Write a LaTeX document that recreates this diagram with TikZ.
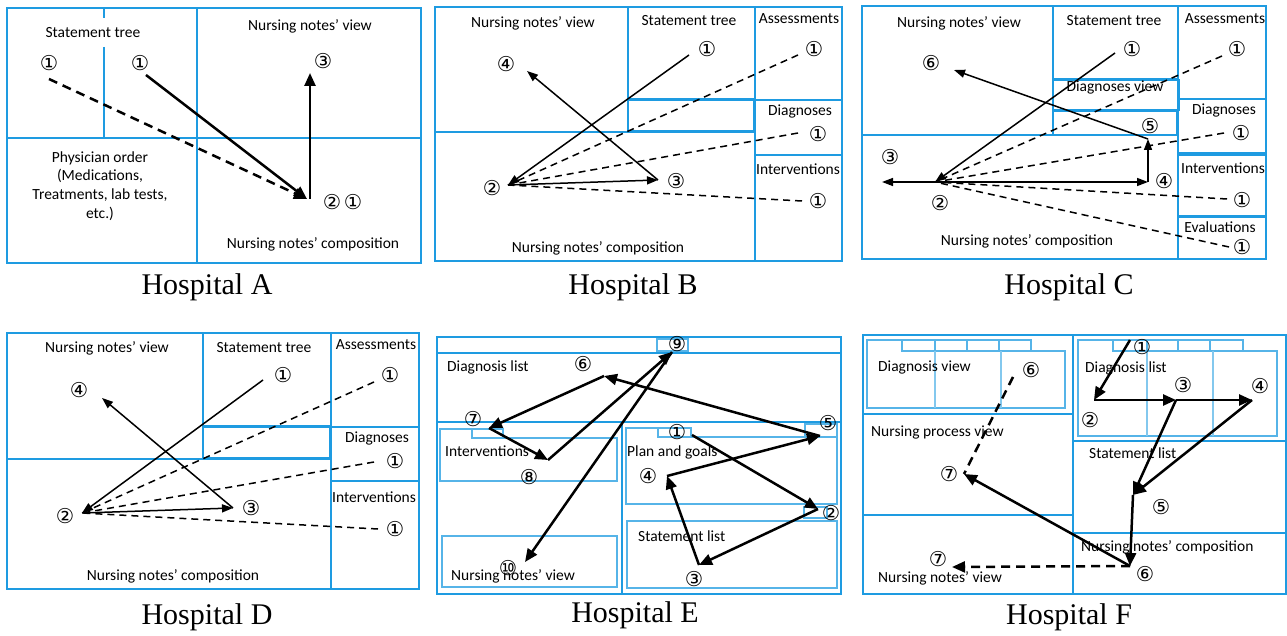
\documentclass[tikz,border=0pt]{standalone}
\usepackage{fontspec}
\setmainfont{Carlito}
\newfontfamily\capfont{Liberation Serif}
\newfontfamily\circfont{DejaVu Sans}
\usetikzlibrary{arrows.meta}
\definecolor{paneblue}{RGB}{30,155,225}

\tikzset{
  pane/.style={draw=paneblue, line width=1.4pt},
  subpane/.style={draw=paneblue!75, line width=1.1pt},
  lbl/.style={font=\fontsize{15.5}{18.7}\selectfont, inner sep=1pt},
  num/.style={font=\circfont\fontsize{20.5}{21}\selectfont, inner sep=0pt},
  hosp/.style={font=\capfont\fontsize{30}{32}\selectfont},
  flow/.style={line width=1.5pt, -{Triangle[length=11pt,width=8pt]}},
  boldflow/.style={line width=2.5pt, -{Triangle[length=13pt,width=11pt]}},
  hint/.style={line width=1.5pt, dash pattern=on 7pt off 5pt},
  boldhint/.style={line width=2.5pt, dash pattern=on 9pt off 6pt},
}

\begin{document}
\begin{tikzpicture}[x=1pt, y=-1pt]
	\useasboundingbox (0,0) rectangle (1287,636);
	
	% Hospital A: caixas
	\draw[pane] (7,8) rectangle (421,263);
	\draw[pane] (197,8) -- (197,263);
	\draw[pane] (7,138) -- (421,138);
	\draw[pane] (104,8) -- (104,18) (104,47) -- (104,138);
	\node[lbl] (aTree) at (93,33) {Statement tree};
	\node[lbl] (aView) at (310,26) {Nursing notes’ view};
	\node[lbl, align=center] (aOrder) at (100,186) {Physician order\\(Medications,\\Treatments, lab tests,\\etc.)};
	\node[lbl] (aComp) at (313,244) {Nursing notes’ composition};
	\node[hosp] (capA) at (207,287) {Hospital A};
	
	% Hospital A: passos
	\node[num] (aOneL) at (49,63) {①};
	\node[num] (aOneR) at (140,63) {①};
	\node[num] (aThree) at (323,61) {③};
	\node[num] (aTwo) at (332,202) {②};
	\node[num] (aOneC) at (353,202) {①};
	\coordinate (pA1l) at (49,79);
	\coordinate (pA1r) at (146,75);
	\coordinate (pA2) at (307,199);
	\coordinate (pA2b) at (310,199);
	\coordinate (pA3) at (310,73);
	\draw[boldhint, -{Triangle[length=13pt,width=11pt]}] (pA1l) -- (pA2);
	\draw[boldflow] (pA1r) -- (pA2);
	\draw[boldflow] (pA2b) -- (pA3);
	
	% Hospital B: caixas
	\draw[pane] (435,7) rectangle (628,132);
	\draw[pane] (435,132) rectangle (755,261);
	\draw[pane] (628,7) rectangle (755,99);
	\draw[pane] (628,100) rectangle (754,131);
	\draw[pane] (755,7) rectangle (842,100);
	\draw[pane] (755,100) rectangle (842,155);
	\draw[pane] (755,155) rectangle (842,261);
	\node[lbl] (bView) at (533,23) {Nursing notes’ view};
	\node[lbl] (bTree) at (689,21) {Statement tree};
	\node[lbl] (bAss) at (799,19) {Assessments};
	\node[lbl] (bDiag) at (800,112) {Diagnoses};
	\node[lbl] (bInt) at (798,169) {Interventions};
	\node[lbl] (bComp) at (598,248) {Nursing notes’ composition};
	\node[hosp] (capB) at (633,287) {Hospital B};
	
	% Hospital B: passos
	\node[num] (bOneT) at (707,49) {①};
	\node[num] (bOneA) at (814,49) {①};
	\node[num] (bOneD) at (818,134) {①};
	\node[num] (bOneI) at (818,201) {①};
	\node[num] (bFour) at (506,64) {④};
	\node[num] (bTwo) at (492,188) {②};
	\node[num] (bThree) at (676,181) {③};
	\coordinate (pB1t) at (689,55);
	\coordinate (pB1a) at (798,55);
	\coordinate (pB1d) at (798,133);
	\coordinate (pB1i) at (802,201);
	\coordinate (pB2) at (508,185);
	\coordinate (pB3) at (658,180);
	\coordinate (pB4) at (527,71);
	\draw[flow] (pB1t) -- (pB2);
	\draw[flow] (pB2) -- (pB3);
	\draw[flow] (pB3) -- (pB4);
	\draw[hint] (pB1a) -- (pB2);
	\draw[hint] (pB1d) -- (pB2);
	\draw[hint] (pB1i) -- (pB2);
	
	% Hospital C: caixas
	\draw[pane] (862,6) rectangle (1053,135);
	\draw[pane] (862,135) rectangle (1178,259);
	\draw[pane] (1053,6) rectangle (1178,79);
	\draw[pane] (1053,80) rectangle (1179,110);
	\draw[pane] (1053,111) rectangle (1177,135);
	\draw[pane] (1178,6) rectangle (1266,99);
	\draw[pane] (1178,99) rectangle (1266,153);
	\draw[pane] (1178,155) rectangle (1266,216);
	\draw[pane] (1178,217) rectangle (1266,259);
	\node[lbl] (cView) at (959,23) {Nursing notes’ view};
	\node[lbl] (cTree) at (1114,21) {Statement tree};
	\node[lbl] (cDview) at (1115,88) {Diagnoses view};
	\node[lbl] (cAss) at (1225,19) {Assessments};
	\node[lbl] (cDiag) at (1224,111) {Diagnoses};
	\node[lbl] (cInt) at (1223,168) {Interventions};
	\node[lbl] (cEval) at (1220,227) {Evaluations};
	\node[lbl] (cComp) at (1027,241) {Nursing notes’ composition};
	\node[hosp] (capC) at (1069,287) {Hospital C};
	
	% Hospital C: passos
	\node[num] (cOneT) at (1132,49) {①};
	\node[num] (cOneA) at (1237,49) {①};
	\node[num] (cOneD) at (1241,133) {①};
	\node[num] (cOneI) at (1242,200) {①};
	\node[num] (cOneE) at (1242,247) {①};
	\node[num] (cSix) at (931,63) {⑥};
	\node[num] (cThree) at (890,157) {③};
	\node[num] (cTwo) at (940,203) {②};
	\node[num] (cFour) at (1164,181) {④};
	\node[num] (cFive) at (1150,126) {⑤};
	\coordinate (pC1t) at (1115,53);
	\coordinate (pC1a) at (1222,56);
	\coordinate (pC1d) at (1224,133);
	\coordinate (pC1i) at (1227,199);
	\coordinate (pC1e) at (1229,247);
	\coordinate (pC2) at (935,182);
	\coordinate (pC3) at (882,182);
	\coordinate (pC4) at (1148,182);
	\coordinate (pC5) at (1148,139);
	\coordinate (pC6) at (954,70);
	\draw[flow] (pC1t) -- (pC2);
	\draw[flow] (pC2) -- (pC3);
	\draw[flow] (pC2) -- (pC4);
	\draw[flow] (pC4) -- (pC5);
	\draw[flow] (pC5) -- (pC6);
	\draw[hint] (pC1a) -- (pC2);
	\draw[hint] (pC1d) -- (pC2);
	\draw[hint] (pC1i) -- (pC2);
	\draw[hint] (pC1e) -- (pC2);
	
	% Hospital D: caixas
	\draw[pane] (7,333) rectangle (203,459);
	\draw[pane] (7,459) rectangle (331,589);
	\draw[pane] (203,333) rectangle (331,426);
	\draw[pane] (203,427) rectangle (330,458);
	\draw[pane] (331,333) rectangle (419,427);
	\draw[pane] (331,427) rectangle (419,481);
	\draw[pane] (331,481) rectangle (419,589);
	\node[lbl] (dView) at (107,348) {Nursing notes’ view};
	\node[lbl] (dTree) at (264,348) {Statement tree};
	\node[lbl] (dAss) at (376,345) {Assessments};
	\node[lbl] (dDiag) at (377,438) {Diagnoses};
	\node[lbl] (dInt) at (374,497) {Interventions};
	\node[lbl] (dComp) at (173,576) {Nursing notes’ composition};
	\node[hosp] (capD) at (207,617) {Hospital D};
	
	% Hospital D: passos
	\node[num] (dOneT) at (283,375) {①};
	\node[num] (dOneA) at (390,375) {①};
	\node[num] (dOneD) at (395,461) {①};
	\node[num] (dOneI) at (395,529) {①};
	\node[num] (dFour) at (79,390) {④};
	\node[num] (dTwo) at (65,516) {②};
	\node[num] (dThree) at (251,508) {③};
	\coordinate (pD1t) at (263,380);
	\coordinate (pD1a) at (374,382);
	\coordinate (pD1d) at (374,462);
	\coordinate (pD1i) at (378,529);
	\coordinate (pD2) at (82,513);
	\coordinate (pD3) at (233,508);
	\coordinate (pD4) at (102,398);
	\draw[flow] (pD1t) -- (pD2);
	\draw[flow] (pD2) -- (pD3);
	\draw[flow] (pD3) -- (pD4);
	\draw[hint] (pD1a) -- (pD2);
	\draw[hint] (pD1d) -- (pD2);
	\draw[hint] (pD1i) -- (pD2);
	
	% Hospital E: caixas
	\draw[pane] (437,337) rectangle (841,594);
	\draw[pane] (437,353) -- (841,353);
	\draw[pane] (437,422) -- (841,422);
	\draw[pane] (622,422) -- (622,594);
	\draw[subpane] (657,339) rectangle (688,351);
	\draw[subpane] (472,429) -- (440,429) -- (440,481) -- (617,481) -- (617,438) -- (503,438);
	\draw[subpane] (472,429) rectangle (503,438);
	\draw[subpane] (442,536) rectangle (617,587);
	\draw[subpane] (658,428) -- (626,428) -- (626,504) -- (837,504) -- (837,437) -- (691,437);
	\draw[subpane] (658,428) rectangle (691,437);
	\draw[subpane] (805,424) rectangle (837,437);
	\draw[subpane] (627,521) rectangle (837,588);
	\draw[subpane] (804,507) rectangle (827,518);
	\node[lbl, anchor=west] (eDiag) at (446,367) {Diagnosis list};
	\node[lbl, anchor=west] (eInt) at (444,451) {Interventions};
	\node[lbl, anchor=west] (ePlan) at (626,452) {Plan and goals};
	\node[lbl, anchor=west] (eStat) at (637,536) {Statement list};
	\node[lbl, anchor=west] (eView) at (450,576) {Nursing notes’ view};
	\node[hosp] (capE) at (635,615) {Hospital E};
	
	% Hospital E: passos
	\node[num] (eOne) at (677,432) {①};
	\node[num] (eTwo) at (831,513) {②};
	\node[num] (eThree) at (694,579) {③};
	\node[num] (eFour) at (648,476) {④};
	\node[num] (eFive) at (828,423) {⑤};
	\node[num] (eSix) at (583,364) {⑥};
	\node[num] (eSeven) at (473,419) {⑦};
	\node[num] (eEight) at (529,477) {⑧};
	\node[num] (eNine) at (677,344) {⑨};
	\node[num] (eTen) at (508,568) {⑩};
	\coordinate (pE1) at (692,435);
	\coordinate (pE2) at (818,509);
	\coordinate (pE3) at (699,565);
	\coordinate (pE4) at (667,476);
	\coordinate (pE5) at (820,436);
	\coordinate (pE6) at (604,376);
	\coordinate (pE7) at (489,428);
	\coordinate (pE8) at (548,460);
	\coordinate (pE9) at (672,352);
	\coordinate (pE10) at (525,562);
	\draw[boldflow] (pE1) -- (pE2);
	\draw[boldflow] (pE2) -- (pE3);
	\draw[boldflow] (pE3) -- (pE4);
	\draw[boldflow] (pE4) -- (pE5);
	\draw[boldflow] (pE5) -- (pE6);
	\draw[boldflow] (pE6) -- (pE7);
	\draw[boldflow] (pE7) -- (pE8);
	\draw[boldflow] (pE8) -- (pE9);
	\draw[boldflow] (pE9) -- (pE10);
	
	% Hospital F: caixas
	\draw[pane] (863,335) rectangle (1286,594);
	\draw[pane] (1073,335) -- (1073,594);
	\draw[pane] (863,414) -- (1073,414);
	\draw[pane] (863,515) -- (1073,515);
	\draw[pane] (1073,441) -- (1286,441);
	\draw[pane] (1073,533) -- (1286,533);
	\draw[subpane] (1031,351) -- (1065,351) -- (1065,408) -- (867,408) -- (867,340) -- (1031,340) -- (1031,351) -- (902,351) -- (902,340);
	\draw[subpane] (935,340) -- (935,351) (967,340) -- (967,351) (999,340) -- (999,351);
	\draw[subpane, draw=paneblue!55] (935,351) -- (935,408) (1001,351) -- (1001,408);
	\draw[subpane] (1243,351) -- (1277,351) -- (1277,436) -- (1078,436) -- (1078,340) -- (1243,340) -- (1243,351) -- (1113,351) -- (1113,340);
	\draw[subpane] (1147,340) -- (1147,351) (1178,340) -- (1178,351) (1210,340) -- (1210,351);
	\draw[subpane, draw=paneblue!55] (1147,351) -- (1147,436) (1213,351) -- (1213,436);
	\node[lbl, anchor=west] (fDview) at (877,367) {Diagnosis view};
	\node[lbl, anchor=west] (fProc) at (870,432) {Nursing process view};
	\node[lbl, anchor=west] (fView) at (877,578) {Nursing notes’ view};
	\node[lbl, anchor=west] (fDlist) at (1084,368) {Diagnosis list};
	\node[lbl, anchor=west] (fStat) at (1088,453) {Statement list};
	\node[lbl, anchor=west] (fComp) at (1080,547) {Nursing notes’ composition};
	\node[hosp] (capF) at (1069,617) {Hospital F};
	
	% Hospital F: passos
	\node[num] (fOne) at (1142,347) {①};
	\node[num] (fTwo) at (1090,420) {②};
	\node[num] (fThree) at (1183,385) {③};
	\node[num] (fFour) at (1260,386) {④};
	\node[num] (fFive) at (1161,507) {⑤};
	\node[num] (fSixB) at (1145,574) {⑥};
	\node[num] (fSixA) at (1031,370) {⑥};
	\node[num] (fSevenA) at (949,474) {⑦};
	\node[num] (fSevenB) at (938,559) {⑦};
	\coordinate (pF1) at (1130,340);
	\coordinate (pF2) at (1094,400);
	\coordinate (pF3) at (1176,400);
	\coordinate (pF4) at (1252,400);
	\coordinate (pF5) at (1133,495);
	\coordinate (pF6) at (1130,566);
	\coordinate (pF6a) at (1013,377);
	\coordinate (pF7a) at (964,474);
	\coordinate (pF7b) at (952,567);
	\draw[boldflow] (pF1) -- (pF2);
	\draw[boldflow] (pF2) -- (pF3);
	\draw[boldflow] (pF3) -- (pF4);
	\draw[boldflow] (pF3) -- (pF5);
	\draw[boldflow] (pF4) -- (pF5);
	\draw[boldflow] (pF5) -- (pF6);
	\draw[boldflow] (pF6) -- (pF7a);
	\draw[boldhint, -{Triangle[length=13pt,width=11pt]}] (pF6) -- (pF7b);
	\draw[boldhint] (pF6a) -- (pF7a);
\end{tikzpicture}
\end{document}
